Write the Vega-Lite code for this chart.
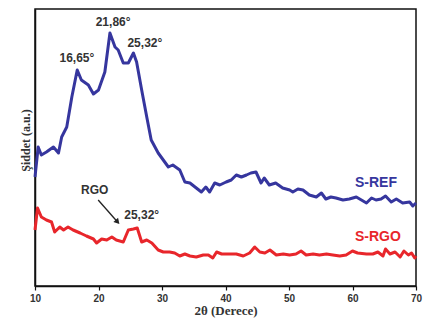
{
  "$schema": "https://vega.github.io/schema/vega-lite/v6.json",
  "width": 381,
  "height": 277,
  "autosize": {"type": "none"},
  "padding": {"left": 35, "top": 9, "right": 9, "bottom": 41},
  "background": "white",
  "config": {
    "view": {"stroke": "#111", "strokeWidth": 1.5},
    "font": "Liberation Sans"
  },
  "datasets": {
    "curves": [
      {"series":"S-REF","x":10.0,"y":109},{"series":"S-REF","x":10.5,"y":139},{"series":"S-REF","x":11.0,"y":131},{"series":"S-REF","x":11.8,"y":134},{"series":"S-REF","x":12.9,"y":139},{"series":"S-REF","x":13.7,"y":133},{"series":"S-REF","x":14.2,"y":149},{"series":"S-REF","x":15.0,"y":159},{"series":"S-REF","x":15.8,"y":189},{"series":"S-REF","x":16.65,"y":216},{"series":"S-REF","x":17.3,"y":206},{"series":"S-REF","x":18.4,"y":201},{"series":"S-REF","x":19.2,"y":192},{"series":"S-REF","x":20.0,"y":196},{"series":"S-REF","x":21.0,"y":214},{"series":"S-REF","x":21.8,"y":253},{"series":"S-REF","x":22.6,"y":239},{"series":"S-REF","x":23.1,"y":236},{"series":"S-REF","x":23.9,"y":223},{"series":"S-REF","x":24.7,"y":223},{"series":"S-REF","x":25.5,"y":233},{"series":"S-REF","x":26.0,"y":224},{"series":"S-REF","x":26.8,"y":196},{"series":"S-REF","x":27.6,"y":169},{"series":"S-REF","x":28.3,"y":146},{"series":"S-REF","x":29.4,"y":133},{"series":"S-REF","x":30.2,"y":126},{"series":"S-REF","x":31.0,"y":119},{"series":"S-REF","x":31.7,"y":121},{"series":"S-REF","x":32.8,"y":116},{"series":"S-REF","x":33.6,"y":104},{"series":"S-REF","x":34.4,"y":103},{"series":"S-REF","x":35.4,"y":98},{"series":"S-REF","x":36.2,"y":94},{"series":"S-REF","x":36.9,"y":99},{"series":"S-REF","x":37.5,"y":94},{"series":"S-REF","x":38.3,"y":103},{"series":"S-REF","x":39.1,"y":101},{"series":"S-REF","x":40.1,"y":104},{"series":"S-REF","x":40.9,"y":106},{"series":"S-REF","x":41.7,"y":111},{"series":"S-REF","x":42.5,"y":109},{"series":"S-REF","x":43.3,"y":111},{"series":"S-REF","x":44.0,"y":113},{"series":"S-REF","x":44.8,"y":114},{"series":"S-REF","x":45.6,"y":103},{"series":"S-REF","x":46.1,"y":108},{"series":"S-REF","x":46.9,"y":101},{"series":"S-REF","x":47.9,"y":103},{"series":"S-REF","x":49.0,"y":98},{"series":"S-REF","x":50.1,"y":96},{"series":"S-REF","x":50.6,"y":94},{"series":"S-REF","x":51.4,"y":97},{"series":"S-REF","x":52.2,"y":96},{"series":"S-REF","x":53.2,"y":91},{"series":"S-REF","x":54.3,"y":89},{"series":"S-REF","x":55.1,"y":93},{"series":"S-REF","x":55.8,"y":87},{"series":"S-REF","x":56.6,"y":89},{"series":"S-REF","x":57.4,"y":88},{"series":"S-REF","x":58.5,"y":86},{"series":"S-REF","x":59.5,"y":87},{"series":"S-REF","x":60.6,"y":89},{"series":"S-REF","x":61.4,"y":86},{"series":"S-REF","x":62.2,"y":83},{"series":"S-REF","x":63.0,"y":88},{"series":"S-REF","x":63.7,"y":86},{"series":"S-REF","x":64.5,"y":87},{"series":"S-REF","x":65.2,"y":90},{"series":"S-REF","x":66.1,"y":84},{"series":"S-REF","x":66.9,"y":87},{"series":"S-REF","x":67.9,"y":83},{"series":"S-REF","x":69.0,"y":84},{"series":"S-REF","x":69.5,"y":80},{"series":"S-REF","x":70.0,"y":83},
      {"series":"S-RGO","x":10.0,"y":56},{"series":"S-RGO","x":10.4,"y":78},{"series":"S-RGO","x":11.0,"y":69},{"series":"S-RGO","x":11.8,"y":66},{"series":"S-RGO","x":12.6,"y":64},{"series":"S-RGO","x":13.1,"y":54},{"series":"S-RGO","x":13.9,"y":59},{"series":"S-RGO","x":14.5,"y":56},{"series":"S-RGO","x":15.2,"y":59},{"series":"S-RGO","x":16.0,"y":56},{"series":"S-RGO","x":17.1,"y":53},{"series":"S-RGO","x":18.1,"y":50},{"series":"S-RGO","x":19.2,"y":47},{"series":"S-RGO","x":19.7,"y":43},{"series":"S-RGO","x":20.5,"y":47},{"series":"S-RGO","x":21.3,"y":46},{"series":"S-RGO","x":22.1,"y":49},{"series":"S-RGO","x":22.8,"y":46},{"series":"S-RGO","x":23.9,"y":44},{"series":"S-RGO","x":24.7,"y":56},{"series":"S-RGO","x":25.5,"y":57},{"series":"S-RGO","x":26.1,"y":58},{"series":"S-RGO","x":26.8,"y":44},{"series":"S-RGO","x":27.6,"y":46},{"series":"S-RGO","x":28.4,"y":43},{"series":"S-RGO","x":29.4,"y":36},{"series":"S-RGO","x":30.2,"y":34},{"series":"S-RGO","x":31.2,"y":34},{"series":"S-RGO","x":32.0,"y":33},{"series":"S-RGO","x":32.8,"y":30},{"series":"S-RGO","x":33.6,"y":32},{"series":"S-RGO","x":34.4,"y":30},{"series":"S-RGO","x":35.4,"y":29},{"series":"S-RGO","x":36.5,"y":31},{"series":"S-RGO","x":37.3,"y":31},{"series":"S-RGO","x":38.0,"y":28},{"series":"S-RGO","x":38.6,"y":34},{"series":"S-RGO","x":39.4,"y":32},{"series":"S-RGO","x":40.7,"y":32},{"series":"S-RGO","x":41.7,"y":32},{"series":"S-RGO","x":42.8,"y":30},{"series":"S-RGO","x":43.8,"y":33},{"series":"S-RGO","x":44.6,"y":39},{"series":"S-RGO","x":45.4,"y":34},{"series":"S-RGO","x":46.2,"y":33},{"series":"S-RGO","x":47.0,"y":36},{"series":"S-RGO","x":48.0,"y":31},{"series":"S-RGO","x":49.1,"y":32},{"series":"S-RGO","x":50.1,"y":31},{"series":"S-RGO","x":51.1,"y":32},{"series":"S-RGO","x":51.9,"y":35},{"series":"S-RGO","x":52.7,"y":31},{"series":"S-RGO","x":53.8,"y":32},{"series":"S-RGO","x":54.8,"y":31},{"series":"S-RGO","x":55.9,"y":32},{"series":"S-RGO","x":56.9,"y":31},{"series":"S-RGO","x":58.0,"y":30},{"series":"S-RGO","x":59.0,"y":31},{"series":"S-RGO","x":60.0,"y":35},{"series":"S-RGO","x":60.8,"y":33},{"series":"S-RGO","x":62.2,"y":32},{"series":"S-RGO","x":63.2,"y":32},{"series":"S-RGO","x":64.0,"y":34},{"series":"S-RGO","x":64.8,"y":30},{"series":"S-RGO","x":65.2,"y":37},{"series":"S-RGO","x":65.9,"y":32},{"series":"S-RGO","x":66.7,"y":34},{"series":"S-RGO","x":67.5,"y":29},{"series":"S-RGO","x":68.1,"y":35},{"series":"S-RGO","x":68.8,"y":31},{"series":"S-RGO","x":69.3,"y":33},{"series":"S-RGO","x":69.8,"y":28},{"series":"S-RGO","x":70.0,"y":30}
    ],
    "peaks": [
      {"label":"21,86°","x":22.3,"y":264},
      {"label":"16,65°","x":16.6,"y":228},
      {"label":"25,32°","x":27.3,"y":243},
      {"label":"RGO","x":19.4,"y":96},
      {"label":"25,32°","x":26.8,"y":71}
    ],
    "names": [
      {"series":"S-REF","x":63.7,"y":103},
      {"series":"S-RGO","x":64.0,"y":49}
    ],
    "arrow": [
      {"x":19.95,"y":86,"x2":23.0,"y2":64}
    ]
  },
  "layer": [
    {
      "data": {"name": "curves"},
      "mark": {"type": "line", "strokeWidth": 3, "strokeJoin": "round"},
      "encoding": {
        "x": {
          "field": "x", "type": "quantitative",
          "scale": {"domain": [10, 70], "nice": false, "zero": false},
          "axis": {
            "title": "2θ (Derece)",
            "values": [10,15,20,25,30,35,40,45,50,55,60,65,70],
            "labelExpr": "datum.value % 10 === 0 ? datum.label : ''",
            "grid": false,
            "domainColor": "#111", "domainWidth": 1.5,
            "tickColor": "#111", "tickSize": 4, "tickWidth": 1.2,
            "labelFont": "Liberation Sans", "labelFontWeight": "bold", "labelFontSize": 10, "labelColor": "#333",
            "labelPadding": 3, "labelFlush": false,
            "titleFont": "Liberation Serif", "titleFontWeight": "bold", "titleFontSize": 13, "titleColor": "#333",
            "titlePadding": 1
          }
        },
        "y": {
          "field": "y", "type": "quantitative",
          "scale": {"domain": [0, 277], "nice": false},
          "axis": {
            "title": "Şiddet (a.u.)",
            "labels": false, "ticks": false, "grid": false,
            "domainColor": "#111", "domainWidth": 1.5,
            "titleFont": "Liberation Serif", "titleFontWeight": "bold", "titleFontSize": 12, "titleColor": "#333",
            "titlePadding": 3, "titleY": 131
          }
        },
        "color": {
          "field": "series", "type": "nominal",
          "scale": {"domain": ["S-REF", "S-RGO"], "range": ["#36369e", "#e8262b"]},
          "legend": null
        }
      }
    },
    {
      "data": {"name": "peaks"},
      "mark": {"type": "text", "fontWeight": "bold", "fontSize": 12, "color": "#333", "font": "Liberation Sans"},
      "encoding": {
        "x": {"field": "x", "type": "quantitative"},
        "y": {"field": "y", "type": "quantitative"},
        "text": {"field": "label"}
      }
    },
    {
      "data": {"name": "names"},
      "mark": {"type": "text", "fontWeight": "bold", "fontSize": 14, "font": "Liberation Sans"},
      "encoding": {
        "x": {"field": "x", "type": "quantitative"},
        "y": {"field": "y", "type": "quantitative"},
        "text": {"field": "series"},
        "color": {"field": "series", "type": "nominal", "legend": null}
      }
    },
    {
      "data": {"name": "arrow"},
      "mark": {"type": "rule", "color": "#222", "strokeWidth": 1.3},
      "encoding": {
        "x": {"field": "x", "type": "quantitative"},
        "y": {"field": "y", "type": "quantitative"},
        "x2": {"field": "x2"},
        "y2": {"field": "y2"}
      }
    },
    {
      "data": {"name": "arrow"},
      "mark": {"type": "point", "shape": "triangle-up", "filled": true, "color": "#222", "size": 40, "angle": 138, "opacity": 1},
      "encoding": {
        "x": {"field": "x2", "type": "quantitative"},
        "y": {"field": "y2", "type": "quantitative"}
      }
    }
  ]
}
